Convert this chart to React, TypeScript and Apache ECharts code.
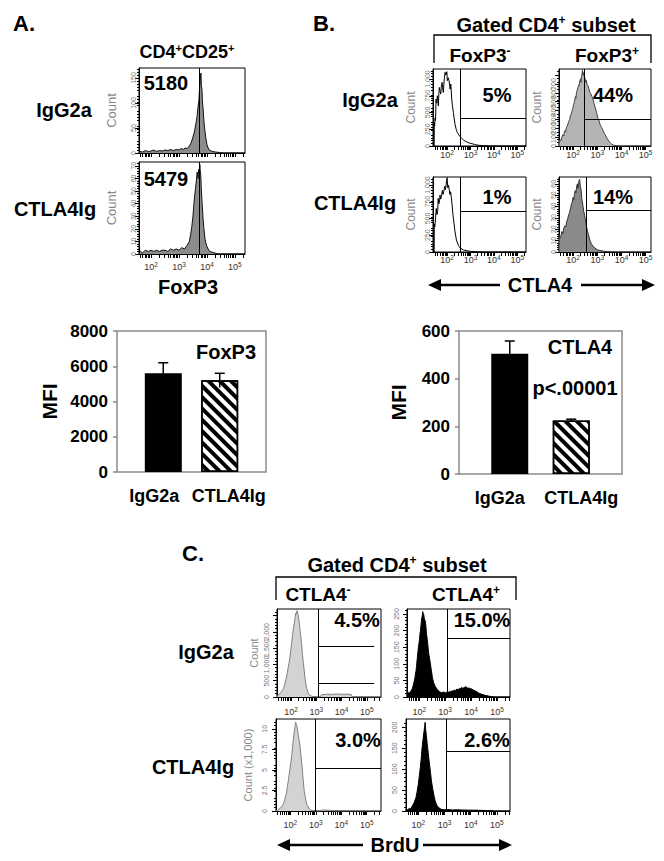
import React, { useEffect, useRef } from 'react';
import * as echarts from 'echarts';

const FONT = "'Liberation Sans', Arial, Helvetica, sans-serif";

// ---------------- Panel A : FoxP3 histograms (x = log10 intensity, y = count)
const aRowLabels = ['IgG2a', 'CTLA4Ig'];
const aMFI = [5180, 5479];
const histA1: [number, number][] = [[1.57,0],[1.6,3],[1.7,2],[1.8,5],[1.9,3],[2.0,4],[2.1,6],[2.2,3],[2.3,5],[2.4,4],[2.5,6],[2.6,5],[2.7,7],[2.8,5],[2.9,7],[3.0,6],[3.08,9],[3.15,7],[3.22,10],[3.3,9],[3.37,14],[3.43,20],[3.49,30],[3.55,42],[3.61,60],[3.65,75],[3.68,92],[3.71,104],[3.73,125],[3.75,140],[3.77,152],[3.785,160],[3.8,135],[3.82,128],[3.84,100],[3.86,90],[3.88,72],[3.91,53],[3.94,38],[3.97,26],[4.0,17],[4.04,10],[4.09,6],[4.15,4],[4.22,3],[4.3,2],[4.45,1],[4.6,0],[5.36,0]];
const histA2: [number, number][] = [[1.57,0],[1.6,2],[1.7,1],[1.8,3],[1.9,2],[2.0,3],[2.1,2],[2.2,3],[2.3,2],[2.4,3],[2.5,3],[2.6,2],[2.7,4],[2.8,3],[2.9,4],[3.0,3],[3.1,5],[3.2,4],[3.26,6],[3.32,8],[3.37,10],[3.42,16],[3.46,22],[3.5,30],[3.53,39],[3.56,46],[3.59,52],[3.62,58],[3.65,65],[3.68,60],[3.7,67],[3.72,63],[3.745,71],[3.76,66],[3.78,62],[3.8,50],[3.83,39],[3.86,28],[3.89,20],[3.93,12],[3.98,7],[4.04,4],[4.1,2],[4.25,1],[4.4,0],[5.36,0]];

// ---------------- Panel B : CTLA4 histograms
const bColLabels: [string, string][] = [['FoxP3', '-'], ['FoxP3', '+']];
const bPercents = ['5%', '44%', '1%', '14%'];
const histB1: [number, number][] = [[1.45,0],[1.455,350],[1.47,300],[1.49,420],[1.51,380],[1.53,700],[1.56,640],[1.585,750],[1.61,680],[1.63,600],[1.65,780],[1.67,875],[1.7,820],[1.73,775],[1.76,900],[1.786,950],[1.81,870],[1.84,800],[1.88,1000],[1.915,1100],[1.95,1060],[1.99,1110],[2.01,975],[2.05,1020],[2.085,975],[2.11,900],[2.13,850],[2.16,925],[2.2,700],[2.23,600],[2.27,500],[2.3,420],[2.34,325],[2.39,250],[2.44,200],[2.5,165],[2.56,140],[2.63,112],[2.7,90],[2.77,72],[2.84,60],[2.95,45],[3.06,35],[3.17,24],[3.27,15],[3.4,9],[3.55,5],[3.7,2],[3.84,0],[5.37,0]];
const histB2: [number, number][] = [[1.42,0],[1.43,50],[1.46,70],[1.5,60],[1.54,100],[1.58,128],[1.62,115],[1.65,170],[1.69,160],[1.72,204],[1.76,225],[1.79,250],[1.83,280],[1.86,298],[1.89,340],[1.92,360],[1.95,385],[1.97,408],[2.0,430],[2.02,470],[2.05,490],[2.07,520],[2.1,560],[2.12,540],[2.14,600],[2.17,630],[2.2,660],[2.23,690],[2.25,680],[2.28,740],[2.31,760],[2.33,720],[2.35,790],[2.37,810],[2.39,860],[2.41,800],[2.43,830],[2.46,790],[2.49,770],[2.52,720],[2.55,740],[2.58,690],[2.62,680],[2.66,640],[2.7,600],[2.74,590],[2.78,560],[2.83,520],[2.87,480],[2.92,430],[2.97,380],[3.02,320],[3.07,290],[3.12,240],[3.18,210],[3.24,175],[3.3,140],[3.36,110],[3.42,80],[3.48,55],[3.54,35],[3.6,20],[3.67,10],[3.75,4],[3.85,0],[5.22,0]];
const histB3: [number, number][] = [[1.45,0],[1.455,420],[1.48,380],[1.51,520],[1.54,650],[1.57,560],[1.6,600],[1.62,800],[1.65,720],[1.68,760],[1.7,850],[1.73,790],[1.76,830],[1.8,920],[1.83,860],[1.86,900],[1.9,980],[1.93,930],[1.96,1000],[2.0,1110],[2.03,960],[2.06,1000],[2.09,940],[2.12,860],[2.15,900],[2.18,820],[2.21,720],[2.25,560],[2.3,420],[2.34,300],[2.4,180],[2.48,100],[2.56,60],[2.7,30],[2.85,18],[3.0,10],[3.2,5],[3.4,2],[3.6,0],[5.37,0]];
const histB4: [number, number][] = [[1.42,0],[1.425,15],[1.46,12],[1.5,14],[1.54,18],[1.58,16],[1.62,21],[1.66,23],[1.7,22],[1.74,27],[1.78,29],[1.82,33],[1.86,35],[1.9,39],[1.93,42],[1.97,44],[2.0,48],[2.03,46],[2.06,51],[2.09,54],[2.12,52],[2.15,58],[2.18,60],[2.21,56],[2.24,62],[2.27,64],[2.3,58],[2.33,55],[2.36,47],[2.4,42],[2.44,36],[2.48,32],[2.52,27],[2.56,22],[2.6,18],[2.65,14],[2.7,10],[2.76,7],[2.83,5],[2.9,3.5],[3.0,2],[3.11,1.3],[3.25,0.8],[3.4,0.4],[3.6,0],[5.22,0]];
const gateBX = [2.56, 2.46, 2.58, 2.53];
const gateBY = [410, 304, 612, 37];

// ---------------- Panel C : BrdU histograms
const cColLabels: [string, string][] = [['CTLA4', '-'], ['CTLA4', '+']];
const cPercents = ['4.5%', '15.0%', '3.0%', '2.6%'];
const histC1: [number, number][] = [[1.44,0],[1.48,50],[1.53,90],[1.57,130],[1.61,170],[1.65,200],[1.7,265],[1.75,400],[1.79,530],[1.82,640],[1.85,750],[1.89,930],[1.92,1060],[1.95,1200],[1.99,1460],[2.02,1650],[2.05,1850],[2.09,2100],[2.12,2250],[2.16,2450],[2.18,2570],[2.2,2540],[2.22,2620],[2.24,2650],[2.27,2550],[2.29,2460],[2.32,2300],[2.35,2070],[2.38,1850],[2.42,1590],[2.45,1300],[2.48,1060],[2.52,800],[2.55,580],[2.58,400],[2.62,265],[2.68,110],[2.75,50],[2.81,25],[2.94,0],[3.15,0],[3.2,70],[3.4,85],[3.6,80],[3.8,95],[4.0,85],[4.2,90],[4.38,75],[4.42,0],[5.56,0]];
const histC2: [number, number][] = [[1.53,0],[1.54,16],[1.57,10],[1.6,14],[1.63,9],[1.66,17],[1.7,20],[1.74,26],[1.77,35],[1.8,45],[1.83,55],[1.85,66],[1.88,80],[1.9,95],[1.93,120],[1.97,150],[2.01,172],[2.03,190],[2.05,200],[2.08,225],[2.1,238],[2.12,245],[2.14,257],[2.16,245],[2.17,250],[2.19,240],[2.21,232],[2.23,230],[2.26,212],[2.28,190],[2.3,180],[2.33,159],[2.36,135],[2.38,125],[2.42,106],[2.45,90],[2.47,80],[2.51,58],[2.56,42],[2.62,32],[2.68,24],[2.74,19],[2.8,15],[2.87,13],[2.95,15],[3.02,12],[3.07,16],[3.12,14],[3.17,17],[3.22,15],[3.26,19],[3.3,17],[3.35,21],[3.4,19],[3.45,24],[3.5,22],[3.55,26],[3.6,25],[3.64,29],[3.68,26],[3.73,28],[3.78,31],[3.83,29],[3.88,26],[3.93,27],[3.98,25],[4.03,24],[4.08,21],[4.12,20],[4.17,18],[4.22,16],[4.27,13],[4.32,11],[4.41,8],[4.54,5],[4.67,3],[4.8,1],[4.92,0],[5.5,0]];
const histC3: [number, number][] = [[1.44,0],[1.5,0.1],[1.64,0.44],[1.7,0.7],[1.76,1.1],[1.8,1.6],[1.85,2.2],[1.89,3],[1.93,3.85],[1.98,4.9],[2.03,6.05],[2.06,6.9],[2.09,7.7],[2.12,8.7],[2.16,9.7],[2.19,10.4],[2.21,10.8],[2.23,10.6],[2.25,10.45],[2.28,10],[2.31,9.35],[2.35,8.6],[2.39,7.7],[2.42,6.7],[2.46,5.5],[2.49,4.4],[2.52,3.3],[2.55,2.4],[2.59,1.65],[2.65,0.77],[2.75,0.22],[2.87,0],[3.2,0],[3.25,0.12],[3.55,0.1],[3.6,0],[5.56,0]];
const histC4: [number, number][] = [[1.53,0],[1.54,4],[1.6,3],[1.65,6],[1.7,5],[1.74,9],[1.78,13],[1.84,20],[1.91,32],[1.95,45],[2.0,64],[2.04,85],[2.08,106],[2.11,125],[2.14,148],[2.17,165],[2.21,187],[2.24,200],[2.26,212],[2.28,195],[2.31,180],[2.34,160],[2.38,138],[2.42,115],[2.46,95],[2.5,72],[2.55,53],[2.6,36],[2.64,25],[2.69,16],[2.74,11],[2.8,7],[2.87,4],[3.0,3],[3.13,3.5],[3.3,2.5],[3.5,3],[3.64,2.5],[3.9,2],[4.15,2],[4.4,1.5],[4.67,1],[4.92,0],[5.5,0]];
const gateCX = [3.07, 3.07, 2.98, 3.07];
const gateCY = [[1543, 420], [178], [5.2], [142]];

// ---------------- Bar charts (MFI)
const barCategories = ['IgG2a', 'CTLA4Ig'];
const foxp3Means = [5600, 5200];
const foxp3Errors = [600, 400];
const ctla4Means = [505, 225];
const ctla4Errors = [53, 5];
const pValueText = 'p<.00001';

// ---------------- helpers
const range = (max: number, step: number) => {
  const out: number[] = [];
  for (let v = 0; v <= max + 1e-9; v += step) out.push(Math.round(v * 1000) / 1000);
  return out;
};
const logMinor = (min: number, max: number) => {
  const out: number[] = [];
  for (let e = 0; e <= 6; e++) for (let k = 1; k <= 9; k++) {
    const v = e + Math.log10(k);
    if (v >= min && v <= max) out.push(v);
  }
  return out;
};
const decades = (min: number, max: number) => {
  const out: number[] = [];
  for (let e = Math.ceil(min); e <= max; e++) out.push(e);
  return out;
};

type HistCfg = {
  data: [number, number][];
  box: { left: number; top: number; width: number; height: number };
  x: [number, number];
  yMax: number; yInt: number;
  fill: string | null; stroke: string;
  xLabels: boolean; xMargin: number;
  yMargin: number; yName: string; yNameGap: number; yNameSize: number;
  mfi?: number;
  gateX?: number; gateY?: number[]; gateEnd?: number;
};

const hists: HistCfg[] = [
  { data: histA1, box: { left: 139, top: 68, width: 106, height: 85 }, x: [1.57, 5.36], yMax: 170, yInt: 50, fill: '#8c8c8c', stroke: '#111', xLabels: false, xMargin: 7, yMargin: 2, yName: 'Count', yNameGap: 21, yNameSize: 13, mfi: aMFI[0] },
  { data: histA2, box: { left: 139, top: 162, width: 106, height: 92 }, x: [1.57, 5.36], yMax: 73, yInt: 10, fill: '#8c8c8c', stroke: '#111', xLabels: true, xMargin: 7, yMargin: 2, yName: 'Count', yNameGap: 21, yNameSize: 13, mfi: aMFI[1] },
  { data: histB1, box: { left: 433, top: 69, width: 93, height: 77 }, x: [1.4, 5.37], yMax: 1150, yInt: 250, fill: null, stroke: '#000', xLabels: true, xMargin: 3, yMargin: 2, yName: 'Count', yNameGap: 16, yNameSize: 12, gateX: gateBX[0], gateY: [gateBY[0]] },
  { data: histB2, box: { left: 559, top: 69, width: 92, height: 77 }, x: [1.42, 5.22], yMax: 870, yInt: 100, fill: '#b4b4b4', stroke: '#444', xLabels: true, xMargin: 3, yMargin: 2, yName: 'Count', yNameGap: 16, yNameSize: 12, gateX: gateBX[1], gateY: [gateBY[1]] },
  { data: histB3, box: { left: 433, top: 177, width: 93, height: 75 }, x: [1.4, 5.37], yMax: 1120, yInt: 250, fill: null, stroke: '#000', xLabels: true, xMargin: 2, yMargin: 2, yName: 'Count', yNameGap: 16, yNameSize: 12, gateX: gateBX[2], gateY: [gateBY[2]] },
  { data: histB4, box: { left: 559, top: 177, width: 92, height: 75 }, x: [1.42, 5.22], yMax: 66, yInt: 10, fill: '#8a8a8a', stroke: '#333', xLabels: true, xMargin: 2, yMargin: 2, yName: 'Count', yNameGap: 16, yNameSize: 12, gateX: gateBX[3], gateY: [gateBY[3]] },
  { data: histC1, box: { left: 277, top: 609, width: 104, height: 88 }, x: [1.44, 5.56], yMax: 2700, yInt: 500, fill: '#d3d3d3', stroke: '#808080', xLabels: true, xMargin: 9, yMargin: 7, yName: 'Count', yNameGap: 18, yNameSize: 11, gateX: gateCX[0], gateY: gateCY[0], gateEnd: 5.29 },
  { data: histC2, box: { left: 407, top: 609, width: 103, height: 88 }, x: [1.53, 5.5], yMax: 265, yInt: 50, fill: '#000', stroke: '#000', xLabels: true, xMargin: 9, yMargin: 7, yName: '', yNameGap: 18, yNameSize: 11, gateX: gateCX[1], gateY: gateCY[1] },
  { data: histC3, box: { left: 276, top: 719, width: 105, height: 92 }, x: [1.44, 5.56], yMax: 11.2, yInt: 2.5, fill: '#d3d3d3', stroke: '#808080', xLabels: true, xMargin: 8, yMargin: 8, yName: 'Count (x1,000)', yNameGap: 23, yNameSize: 11, gateX: gateCX[2], gateY: gateCY[2] },
  { data: histC4, box: { left: 406, top: 719, width: 104, height: 92 }, x: [1.53, 5.5], yMax: 220, yInt: 50, fill: '#000', stroke: '#000', xLabels: true, xMargin: 8, yMargin: 8, yName: '', yNameGap: 18, yNameSize: 11, gateX: gateCX[3], gateY: gateCY[3] },
];

function text(t: string, x: number, y: number, size = 20, align: string = 'center') {
  return { type: 'text', x, y, silent: true, z: 10,
    style: { text: t, fill: '#000', fontSize: size, fontWeight: 'bold', fontFamily: FONT, align, verticalAlign: 'middle' } };
}
function supText(parts: [string, string][], x: number, y: number, size: number, supSize: number) {
  const t = parts.map(([m, s]) => `{m|${m}}` + (s ? `{s|${s}}` : '')).join('');
  return { type: 'text', x, y, silent: true, z: 10,
    style: { text: t, align: 'center', verticalAlign: 'middle',
      rich: {
        m: { fontSize: size, fontWeight: 'bold', fontFamily: FONT, fill: '#000', lineHeight: size + 2 },
        s: { fontSize: supSize, fontWeight: 'bold', fontFamily: FONT, fill: '#000', lineHeight: supSize, verticalAlign: 'top' },
      } } };
}
function arrow(x1: number, x2: number, y: number, tl: number, tr: number) {
  // double-headed arrow with a gap in the middle for its label
  return [
    { type: 'line', silent: true, shape: { x1: x1 + 10, y1: y, x2: tl, y2: y }, style: { stroke: '#000', lineWidth: 2.5 } },
    { type: 'line', silent: true, shape: { x1: tr, y1: y, x2: x2 - 10, y2: y }, style: { stroke: '#000', lineWidth: 2.5 } },
    { type: 'polygon', silent: true, shape: { points: [[x1, y], [x1 + 13, y - 6], [x1 + 13, y + 6]] }, style: { fill: '#000' } },
    { type: 'polygon', silent: true, shape: { points: [[x2, y], [x2 - 13, y - 6], [x2 - 13, y + 6]] }, style: { fill: '#000' } },
  ];
}

export default function App() {
  const ref = useRef<HTMLDivElement>(null);
  useEffect(() => {
    if (!ref.current) return;
    const chart = echarts.init(ref.current, null, { renderer: 'svg' });

    const grid: any[] = [];
    const xAxis: any[] = [];
    const yAxis: any[] = [];
    const series: any[] = [];

    hists.forEach((h, i) => {
      grid.push({ ...h.box, show: true, borderColor: '#000', borderWidth: 1, containLabel: false });
      xAxis.push({
        gridIndex: i, type: 'value', min: h.x[0], max: h.x[1],
        axisLine: { show: true, lineStyle: { color: '#000', width: 1 } },
        axisTick: { show: true, inside: false, length: 4, customValues: logMinor(h.x[0], h.x[1]), lineStyle: { color: '#000', width: 1 } },
        axisLabel: {
          show: h.xLabels, customValues: decades(h.x[0], h.x[1]), margin: h.xMargin,
          formatter: (v: number) => `{b|10}{s|${Math.round(v)}}`,
          rich: {
            b: { fontSize: 9, fontFamily: FONT, color: '#333', lineHeight: 11 },
            s: { fontSize: 6.5, fontFamily: FONT, color: '#333', lineHeight: 7, verticalAlign: 'top' },
          },
        },
        splitLine: { show: false },
      });
      const yt = range(h.yMax, h.yInt).filter((v) => v <= h.yMax);
      yAxis.push({
        gridIndex: i, type: 'value', min: 0, max: h.yMax,
        axisLine: { show: true, lineStyle: { color: '#000', width: 1 } },
        axisTick: { show: true, length: 4, customValues: yt, lineStyle: { color: '#000' } },
        minorTick: { show: true, splitNumber: 5, length: 2, lineStyle: { color: '#000' } },
        axisLabel: { customValues: yt, rotate: 90, fontSize: 7, fontFamily: FONT, color: '#777', margin: h.yMargin,
          formatter: (v: number) => v.toLocaleString('en-US') },
        splitLine: { show: false },
        name: h.yName, nameLocation: 'middle', nameGap: h.yNameGap,
        nameTextStyle: { fontSize: h.yNameSize, fontFamily: FONT, color: '#888' },
      });
      const ml: any[] = [];
      if (h.mfi) ml.push({ xAxis: Math.log10(h.mfi) });
      if (h.gateX !== undefined) {
        ml.push({ xAxis: h.gateX });
        (h.gateY || []).forEach((gy) => ml.push([{ coord: [h.gateX, gy] }, { coord: [h.gateEnd ?? h.x[1], gy] }]));
      }
      series.push({
        type: 'line', xAxisIndex: i, yAxisIndex: i, data: h.data, symbol: 'none', silent: true,
        lineStyle: { color: h.stroke, width: 1 },
        areaStyle: h.fill ? { color: h.fill, opacity: 1 } : undefined,
        markLine: { silent: true, symbol: ['none', 'none'], label: { show: false },
          lineStyle: { color: '#000', width: 1, type: 'solid' }, data: ml },
      });
    });

    // ---- bar charts
    const hatch = { color: '#fff', borderColor: '#000', borderWidth: 1.5,
      decal: { symbol: 'rect', symbolSize: 1, color: '#000', dashArrayX: [1, 0], dashArrayY: [4, 4], rotation: Math.PI / 4 } };
    const bars = [
      { box: { left: 117, top: 331, width: 149, height: 141 }, max: 8000, int: 2000, means: foxp3Means, errs: foxp3Errors, off: 9, nameGap: 57 },
      { box: { left: 459, top: 331, width: 163, height: 143 }, max: 600, int: 200, means: ctla4Means, errs: ctla4Errors, off: 10, nameGap: 50 },
    ];
    bars.forEach((b, j) => {
      const gi = hists.length + j;
      const barW = 37;
      const gapPct = `${Math.round(((2 * b.off - barW) / barW) * 100)}%`;
      grid.push({ ...b.box, show: true, borderColor: '#8a8a8a', borderWidth: 1.5 });
      xAxis.push({ gridIndex: gi, type: 'category', data: barCategories,
        axisLine: { show: false }, axisTick: { show: false },
        axisLabel: { interval: 0, hideOverlap: false, fontSize: 18, fontWeight: 'bold', fontFamily: FONT, color: '#000', margin: 15 } });
      yAxis.push({ gridIndex: gi, type: 'value', min: 0, max: b.max, interval: b.int,
        axisLine: { show: false }, axisTick: { show: true, length: 4, lineStyle: { color: '#8a8a8a', width: 1.5 } },
        splitLine: { show: false },
        axisLabel: { fontSize: 17, fontWeight: 'bold', fontFamily: FONT, color: '#000', margin: 9, formatter: (v: number) => String(v) },
        name: 'MFI', nameLocation: 'middle', nameGap: b.nameGap,
        nameTextStyle: { fontSize: 21, fontWeight: 'bold', fontFamily: FONT, color: '#000' } });
      series.push({ type: 'bar', xAxisIndex: gi, yAxisIndex: gi, barWidth: barW, barGap: gapPct, silent: true,
        data: b.means.map((m, k) => (k === 1 ? m : '-')), itemStyle: hatch });
      series.push({ type: 'bar', xAxisIndex: gi, yAxisIndex: gi, barWidth: barW, barGap: gapPct, silent: true,
        data: b.means.map((m, k) => (k === 0 ? m : '-')), itemStyle: { color: '#000' } });
      series.push({ type: 'custom', xAxisIndex: gi, yAxisIndex: gi, silent: true, z: 5,
        data: b.means.map((m, k) => [k, m, b.errs[k]]),
        renderItem: (_p: any, api: any) => {
          const k = api.value(0), m = api.value(1), e = api.value(2);
          const top = api.coord([k, m + e]);
          const bot = api.coord([k, m - e]);
          const x = top[0] + (k === 0 ? b.off : -b.off);
          return { type: 'group', children: [
            { type: 'line', shape: { x1: x, y1: bot[1], x2: x, y2: top[1] }, style: { stroke: '#000', lineWidth: 1.5 } },
            { type: 'line', shape: { x1: x - 5, y1: top[1], x2: x + 5, y2: top[1] }, style: { stroke: '#000', lineWidth: 1.5 } },
          ] };
        } });
    });

    const graphic: any[] = [
      // Panel A
      text('A.', 13, 23, 22, 'left'),
      supText([['CD4', '+'], ['CD25', '+']], 187, 52, 18, 11),
      text(aRowLabels[0], 64, 110),
      text(aRowLabels[1], 55, 209),
      text(String(aMFI[0]), 166, 83),
      text(String(aMFI[1]), 166, 179),
      text('FoxP3', 188, 287),
      // Panel B
      text('B.', 313, 23, 22, 'left'),
      supText([['Gated CD4', '+'], [' subset', '']], 546, 25, 20, 12),
      { type: 'polyline', silent: true, shape: { points: [[434, 63], [434, 35], [651, 35], [651, 63]] }, style: { stroke: '#000', lineWidth: 1.3, fill: null } },
      supText([bColLabels[0]], 480, 55, 19, 12),
      supText([bColLabels[1]], 607, 55, 19, 12),
      text(aRowLabels[0], 370, 100),
      text(aRowLabels[1], 355, 203),
      text(bPercents[0], 497, 95),
      text(bPercents[1], 613, 95),
      text(bPercents[2], 497, 197),
      text(bPercents[3], 613, 197),
      text('CTLA4', 540, 285),
      ...arrow(428, 655, 285, 500, 581),
      // Bar charts
      text('FoxP3', 226, 352),
      text('CTLA4', 580, 347),
      text(pValueText, 575, 388),
      // Panel C
      text('C.', 182, 553, 22, 'left'),
      supText([['Gated CD4', '+'], [' subset', '']], 397, 565, 20, 12),
      { type: 'polyline', silent: true, shape: { points: [[276, 600], [276, 577], [516, 577], [516, 600]] }, style: { stroke: '#000', lineWidth: 1.3, fill: null } },
      supText([cColLabels[0]], 318, 594, 19, 12),
      supText([cColLabels[1]], 466, 594, 19, 12),
      text(aRowLabels[0], 206, 652),
      text(aRowLabels[1], 193, 767),
      text(cPercents[0], 357, 620),
      text(cPercents[1], 482, 620),
      text(cPercents[2], 358, 740),
      text(cPercents[3], 487, 740),
      text('BrdU', 395, 845),
      ...arrow(277, 512, 845, 363, 423),
    ];

    chart.setOption({
      animation: false,
      backgroundColor: '#fff',
      textStyle: { fontFamily: FONT },
      grid, xAxis, yAxis, series, graphic,
    });
    return () => chart.dispose();
  }, []);

  return <div ref={ref} style={{ position: 'absolute', left: 0, top: 0, width: 664, height: 861, background: '#fff' }} />;
}
